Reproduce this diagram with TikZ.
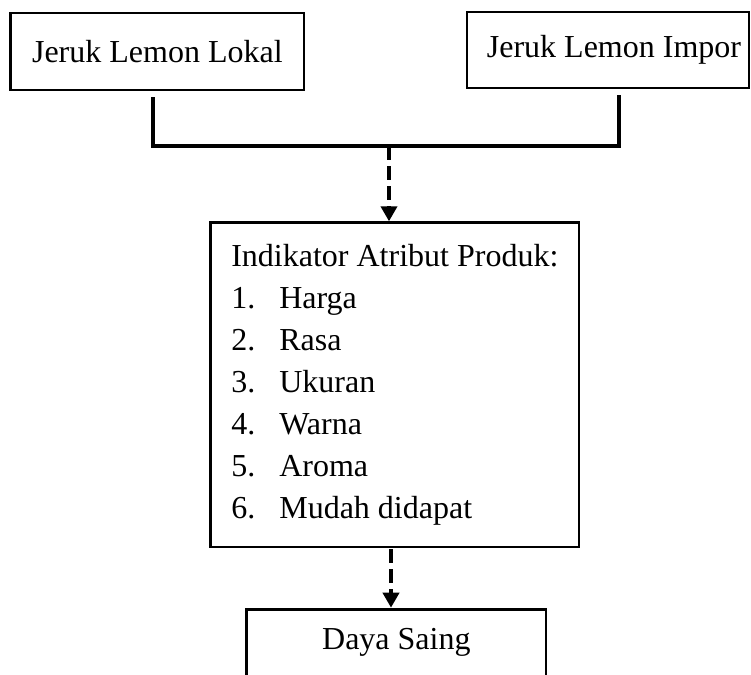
\documentclass[tikz,border=0pt]{standalone}
\usepackage{fontspec}
\setmainfont{Liberation Serif}
\usetikzlibrary{arrows.meta}
\begin{document}
\begin{tikzpicture}[x=0.5pt,y=-0.5pt,
  txt/.style={font=\fontsize{16}{21}\selectfont},
  box/.style={draw, line width=1.4pt, inner sep=0pt, txt},
  conn/.style={line width=2pt},
  dasharrow/.style={line width=2pt, dash pattern=on 7pt off 3pt, -{Triangle[width=8pt,length=7.5pt]}}]
\useasboundingbox (0,0) rectangle (751,675);
\clip (0,0) rectangle (751,675);
\node[box, minimum width=146.65pt, minimum height=38.5pt] (lokal) at (157.35,51.5) {Jeruk Lemon Lokal};
\node[box, minimum width=141pt, minimum height=38pt] (impor) at (608,50) {\hspace*{6pt}Jeruk Lemon Impor};
\node[box, minimum width=184.15pt, minimum height=162.15pt, align=left] (attr) at (394.85,384.85)
  {Indikator Atribut Produk:\\
   \makebox[24pt][l]{1.}Harga\\
   \makebox[24pt][l]{2.}Rasa\\
   \makebox[24pt][l]{3.}Ukuran\\
   \makebox[24pt][l]{4.}Warna\\
   \makebox[24pt][l]{5.}Aroma\\
   \makebox[24pt][l]{6.}Mudah didapat};
\node[box, anchor=north, minimum width=149.65pt, inner ysep=9pt, text height=11pt, text depth=30pt] (saing) at (396.35,607.7) {Daya Saing};
\coordinate (lk) at (153,97);
\coordinate (ip) at (619,95);
\coordinate (jn) at (389,146);
\coordinate (d2) at (391,549);
\draw[conn] (lk) |- (jn) -| (ip);
\draw[dasharrow] (jn) -- (jn |- attr.north);
\draw[dasharrow] (d2) -- (d2 |- saing.north);
\end{tikzpicture}
\end{document}
